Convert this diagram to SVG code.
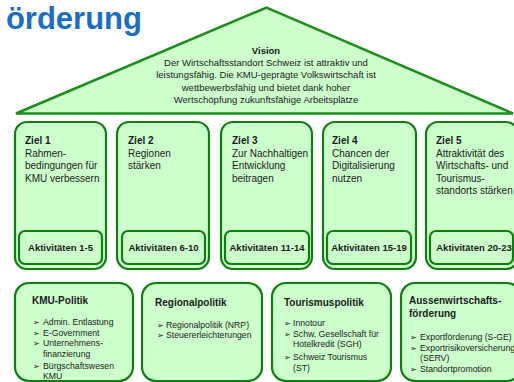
<svg xmlns="http://www.w3.org/2000/svg" width="514" height="382" viewBox="0 0 514 382">
<style>
.box{fill:#ccffcc;stroke:#0e7f0e;stroke-width:2.2}
.inner{fill:#ccffcc;stroke:#0e7f0e;stroke-width:2.2}
.roof{fill:#ccffcc;stroke:#1a901a;stroke-width:2.5;stroke-linejoin:miter}
text{font-family:"Liberation Sans",Arial,sans-serif;fill:#1a1a1a}
.t{font-size:10px}
.tb{font-size:10px;font-weight:bold}
.akt{font-size:9.5px;font-weight:bold;text-anchor:middle}
.v{font-size:9.5px;text-anchor:middle}
.vb{font-size:9.5px;font-weight:bold;text-anchor:middle}
.li{font-size:8.7px}
.bu{font-family:"DejaVu Sans",sans-serif;font-size:8px}
.title{font-size:31px;font-weight:bold;fill:#1b6ec2;text-anchor:end}
</style>
<rect width="514" height="382" fill="#ffffff"/>
<text class="title" x="142" y="29">örderung</text>

<g id="vision">
<polygon class="roof" points="16,113.5 266.5,7.5 513,113.5"/>
<text class="vb" x="266" y="54">Vision</text>
<text class="v" x="266" y="66">Der Wirtschaftsstandort Schweiz ist attraktiv und</text>
<text class="v" x="266" y="78">leistungsfähig. Die KMU-geprägte Volkswirtschaft ist</text>
<text class="v" x="266" y="90.5">wettbewerbsfähig und bietet dank hoher</text>
<text class="v" x="266" y="103">Wertschöpfung zukunftsfähige Arbeitsplätze</text>
</g>

<g id="ziel1">
<rect class="box" x="15" y="122" width="91" height="147" rx="12"/>
<text class="tb" x="25" y="144">Ziel 1</text>
<text class="t" x="25" y="156.5">Rahmen-</text>
<text class="t" x="25" y="169">bedingungen für</text>
<text class="t" x="25" y="181.5">KMU verbessern</text>
<rect class="inner" x="19" y="231" width="83" height="33" rx="6"/>
<text class="akt" x="60.5" y="251">Aktivitäten 1-5</text>
</g>

<g id="ziel2">
<rect class="box" x="117" y="122" width="92" height="147" rx="12"/>
<text class="tb" x="128" y="144">Ziel 2</text>
<text class="t" x="128" y="156.5">Regionen</text>
<text class="t" x="128" y="169">stärken</text>
<rect class="inner" x="122" y="231" width="83" height="33" rx="6"/>
<text class="akt" x="163.5" y="251">Aktivitäten 6-10</text>
</g>

<g id="ziel3">
<rect class="box" x="221" y="122" width="91" height="147" rx="12"/>
<text class="tb" x="232" y="144">Ziel 3</text>
<text class="t" x="232" y="156.5">Zur Nachhaltigen</text>
<text class="t" x="232" y="169">Entwicklung</text>
<text class="t" x="232" y="181.5">beitragen</text>
<rect class="inner" x="225" y="231" width="84" height="33" rx="6"/>
<text class="akt" x="267" y="251">Aktivitäten 11-14</text>
</g>

<g id="ziel4">
<rect class="box" x="323" y="122" width="93" height="147" rx="12"/>
<text class="tb" x="332" y="144">Ziel 4</text>
<text class="t" x="332" y="156.5">Chancen der</text>
<text class="t" x="332" y="169">Digitalisierung</text>
<text class="t" x="332" y="181.5">nutzen</text>
<rect class="inner" x="327" y="231" width="84" height="33" rx="6"/>
<text class="akt" x="369" y="251">Aktivitäten 15-19</text>
</g>

<g id="ziel5">
<rect class="box" x="426" y="122" width="92" height="147" rx="12"/>
<text class="tb" x="436" y="144">Ziel 5</text>
<text class="t" x="436" y="156.5">Attraktivität des</text>
<text class="t" x="436" y="169">Wirtschafts- und</text>
<text class="t" x="436" y="181.5">Tourismus-</text>
<text class="t" x="436" y="194">standorts stärken</text>
<rect class="inner" x="430" y="231" width="83" height="33" rx="6"/>
<text class="akt" x="474" y="251">Aktivitäten 20-23</text>
</g>

<g id="kmu">
<rect class="box" x="15" y="283" width="118" height="98" rx="14"/>
<text class="tb" x="32" y="304">KMU-Politik</text>
<text class="bu" x="33" y="325">➢</text><text class="li" x="43" y="325">Admin. Entlastung</text>
<text class="bu" x="33" y="335.5">➢</text><text class="li" x="43" y="335.5">E-Government</text>
<text class="bu" x="33" y="346">➢</text><text class="li" x="43" y="346">Unternehmens-</text>
<text class="li" x="43" y="357">finanzierung</text>
<text class="bu" x="33" y="368.5">➢</text><text class="li" x="43" y="368.5">Bürgschaftswesen</text>
<text class="li" x="43" y="379">KMU</text>
</g>

<g id="regional">
<rect class="box" x="142" y="283" width="120" height="98" rx="14"/>
<text class="tb" x="155" y="305.5">Regionalpolitik</text>
<text class="bu" x="157" y="327.5">➢</text><text class="li" x="166" y="327.5">Regionalpolitik (NRP)</text>
<text class="bu" x="157" y="338">➢</text><text class="li" x="166" y="338">Steuererleichterungen</text>
</g>

<g id="tourismus">
<rect class="box" x="272" y="283" width="119" height="98" rx="14"/>
<text class="tb" x="284" y="305.5">Tourismuspolitik</text>
<text class="bu" x="284" y="326">➢</text><text class="li" x="293" y="326">Innotour</text>
<text class="bu" x="284" y="336.5">➢</text><text class="li" x="293" y="336.5">Schw. Gesellschaft für</text>
<text class="li" x="293" y="347">Hotelkredit (SGH)</text>
<text class="bu" x="284" y="359.5">➢</text><text class="li" x="293" y="359.5">Schweiz Tourismus</text>
<text class="li" x="293" y="370.5">(ST)</text>
</g>

<g id="aussen">
<rect class="box" x="401" y="283" width="120" height="98" rx="14"/>
<text class="tb" x="409" y="303.5">Aussenwirtschafts-</text>
<text class="tb" x="409" y="316.5">förderung</text>
<text class="bu" x="410" y="340">➢</text><text class="li" x="420" y="340">Exportförderung (S-GE)</text>
<text class="bu" x="410" y="350.5">➢</text><text class="li" x="420" y="350.5">Exportrisikoversicherung</text>
<text class="li" x="420" y="361">(SERV)</text>
<text class="bu" x="410" y="372">➢</text><text class="li" x="420" y="372">Standortpromotion</text>
</g>

<g id="connectors"></g>
</svg>
